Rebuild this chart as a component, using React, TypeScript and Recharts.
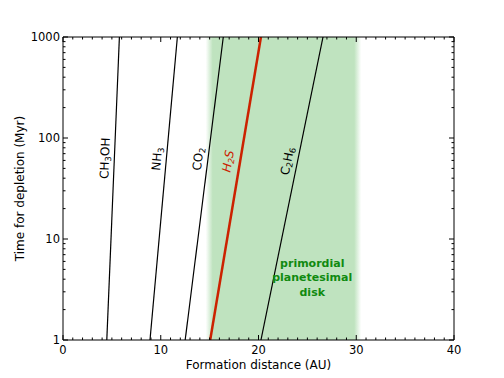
import React from 'react';
import { ComposedChart, Line, XAxis, YAxis, ReferenceArea, ReferenceDot } from 'recharts';

// ---- data ----
const species = ['CH3OH', 'NH3', 'CO2', 'H2S', 'C2H6'];
const xAt1Myr = [4.48, 8.9, 12.5, 15.06, 20.25];
const xAt1000Myr = [5.77, 11.7, 16.4, 20.25, 26.6];
const labelX = [4.3, 9.63, 13.83, 16.9, 22.95];
const labelY = [63, 62, 62, 59, 59];
const diskRange = [14.6, 30.5];
const diskLabelAt = { x: 25.5, y: 4.2 };
const diskLabelLines = ['primordial', 'planetesimal', 'disk'];
const xMajorTicks = [0, 10, 20, 30, 40];
const yMajorTicks = [1, 10, 100, 1000];

const xTicks: number[] = [];
for (let i = 0; i <= 40; i++) xTicks.push(i);
const yTicks: number[] = [];
[1, 10, 100].forEach((d) => {
  for (let m = 1; m <= 9; m++) yTicks.push(m * d);
});
yTicks.push(1000);

const FONT = 'DejaVu Sans, sans-serif';
const RED = '#cc2200';

const labelParts: Record<string, Array<[string, boolean]>> = {
  CH3OH: [['CH', false], ['3', true], ['OH', false]],
  NH3: [['NH', false], ['3', true]],
  CO2: [['CO', false], ['2', true]],
  H2S: [['H', false], ['2', true], ['S', false]],
  C2H6: [['C', false], ['2', true], ['H', false], ['6', true]],
};

const XTick = (props: any) => {
  const { x, y, payload, top } = props;
  const v = payload.value;
  const major = xMajorTicks.includes(v);
  const len = major ? 5 : 2.5;
  return (
    <g>
      <line x1={x} x2={x} y1={y} y2={top ? y + len : y - len} stroke="#000" strokeWidth={1} />
      {!top && major && (
        <text x={x} y={y + 14} textAnchor="middle" fontFamily={FONT} fontSize={11.5} fill="#000">
          {v}
        </text>
      )}
    </g>
  );
};

const YTick = (props: any) => {
  const { x, y, payload, right } = props;
  const v = payload.value;
  const major = yMajorTicks.some((t) => Math.abs(t - v) < 1e-6);
  const len = major ? 5 : 2.5;
  return (
    <g>
      <line x1={x} x2={right ? x - len : x + len} y1={y} y2={y} stroke="#000" strokeWidth={1} />
      {!right && major && (
        <text x={x - 3} y={y} textAnchor="end" dominantBaseline="central" fontFamily={FONT} fontSize={11.5} fill="#000">
          {v}
        </text>
      )}
    </g>
  );
};

const SpeciesLabel = (props: any) => {
  const { cx, cy, name, angle } = props;
  const parts = labelParts[name];
  const isH2S = name === 'H2S';
  return (
    <text
      x={cx}
      y={cy}
      transform={`rotate(${angle} ${cx} ${cy})`}
      textAnchor="middle"
      dominantBaseline="central"
      fontFamily={FONT}
      fontSize={12}
      fontStyle={isH2S ? 'italic' : 'normal'}
      fill={isH2S ? RED : '#000'}
    >
      {parts.map(([t, sub], i) => {
        const prevSub = i > 0 && parts[i - 1][1];
        const dy = sub ? 3 : prevSub ? -3 : 0;
        return (
          <tspan key={i} dy={dy} fontSize={sub ? 8.5 : 12}>
            {t}
          </tspan>
        );
      })}
    </text>
  );
};

const DiskLabel = (props: any) => {
  const { cx, cy } = props;
  return (
    <text textAnchor="middle" fontFamily={FONT} fontSize={11} fontWeight="bold" fill="#108a10">
      {diskLabelLines.map((l, i) => (
        <tspan key={i} x={cx} y={cy + (i - 1) * 14.5 + 4}>
          {l}
        </tspan>
      ))}
    </text>
  );
};

export default function App() {
  const tilts = species.map((_, i) => {
    const dxPx = (xAt1000Myr[i] - xAt1Myr[i]) * 9.76;
    return -90 + (Math.atan2(dxPx, 303) * 180) / Math.PI;
  });

  return (
    <div style={{ position: 'absolute', left: 0, top: 0 }}>
      <ComposedChart width={504} height={378} margin={{ top: 32, right: 45, bottom: 0, left: 0 }}>
        <defs>
          <linearGradient id="band" x1="0" y1="0" x2="1" y2="0">
            <stop offset="0" stopColor="#bfe3bf" stopOpacity={0} />
            <stop offset="0.045" stopColor="#bfe3bf" stopOpacity={1} />
            <stop offset="0.955" stopColor="#bfe3bf" stopOpacity={1} />
            <stop offset="1" stopColor="#bfe3bf" stopOpacity={0} />
          </linearGradient>
        </defs>
        <XAxis
          xAxisId="b"
          dataKey="x"
          type="number"
          domain={[0, 40]}
          ticks={xTicks}
          interval={0}
          allowDataOverflow
          height={38}
          tickSize={0}
          tickMargin={0}
          tickLine={false}
          axisLine={{ stroke: '#000' }}
          tick={<XTick />}
          label={(p: any) => {
            const vb = p.viewBox;
            return (
              <text x={vb.x + vb.width / 2} y={vb.y + 29} textAnchor="middle" fontFamily={FONT} fontSize={12} fill="#000">
                Formation distance (AU)
              </text>
            );
          }}
        />
        <XAxis
          xAxisId="t"
          orientation="top"
          dataKey="x"
          type="number"
          domain={[0, 40]}
          ticks={xTicks}
          interval={0}
          allowDataOverflow
          height={5}
          tickSize={0}
          tickMargin={0}
          tickLine={false}
          axisLine={{ stroke: '#000' }}
          tick={<XTick top />}
        />
        <YAxis
          yAxisId="l"
          type="number"
          scale="log"
          domain={[1, 1000]}
          ticks={yTicks}
          interval={0}
          allowDataOverflow
          width={63}
          tickSize={0}
          tickMargin={0}
          tickLine={false}
          axisLine={{ stroke: '#000' }}
          tick={<YTick />}
          label={(p: any) => {
            const vb = p.viewBox;
            const cx = vb.x + 20;
            const cy = vb.y + vb.height / 2;
            return (
              <text
                x={cx}
                y={cy}
                transform={`rotate(-90 ${cx} ${cy})`}
                textAnchor="middle"
                dominantBaseline="central"
                fontFamily={FONT}
                fontSize={12}
                fill="#000"
              >
                Time for depletion (Myr)
              </text>
            );
          }}
        />
        <YAxis
          yAxisId="r"
          orientation="right"
          type="number"
          scale="log"
          domain={[1, 1000]}
          ticks={yTicks}
          interval={0}
          allowDataOverflow
          width={5}
          tickSize={0}
          tickMargin={0}
          tickLine={false}
          axisLine={{ stroke: '#000' }}
          tick={<YTick right />}
        />
        <ReferenceArea
          xAxisId="b"
          yAxisId="l"
          x1={diskRange[0]}
          x2={diskRange[1]}
          y1={1}
          y2={1000}
          fill="url(#band)"
          fillOpacity={1}
          stroke="none"
          ifOverflow="hidden"
        />
        {/* invisible series that activates the top and right frame axes */}
        <Line
          xAxisId="t"
          yAxisId="r"
          data={[
            { x: xAt1Myr[0], y: 1 },
            { x: xAt1000Myr[0], y: 1000 },
          ]}
          dataKey="y"
          stroke="none"
          dot={false}
          activeDot={false}
          isAnimationActive={false}
        />
        {species.map((s, i) => (
          <Line
            key={s}
            xAxisId="b"
            yAxisId="l"
            data={[
              { x: xAt1Myr[i], y: 1 },
              { x: xAt1000Myr[i], y: 1000 },
            ]}
            dataKey="y"
            type="linear"
            dot={false}
            activeDot={false}
            stroke={s === 'H2S' ? RED : '#000'}
            strokeWidth={s === 'H2S' ? 2.5 : 1.2}
            isAnimationActive={false}
          />
        ))}
        {species.map((s, i) => (
          <ReferenceDot
            key={'lab' + s}
            xAxisId="b"
            yAxisId="l"
            x={labelX[i]}
            y={labelY[i]}
            r={0}
            shape={(p: any) => <SpeciesLabel cx={p.cx} cy={p.cy} name={s} angle={tilts[i]} />}
          />
        ))}
        <ReferenceDot
          xAxisId="b"
          yAxisId="l"
          x={diskLabelAt.x}
          y={diskLabelAt.y}
          r={0}
          shape={(p: any) => <DiskLabel cx={p.cx} cy={p.cy} />}
        />
      </ComposedChart>
    </div>
  );
}
